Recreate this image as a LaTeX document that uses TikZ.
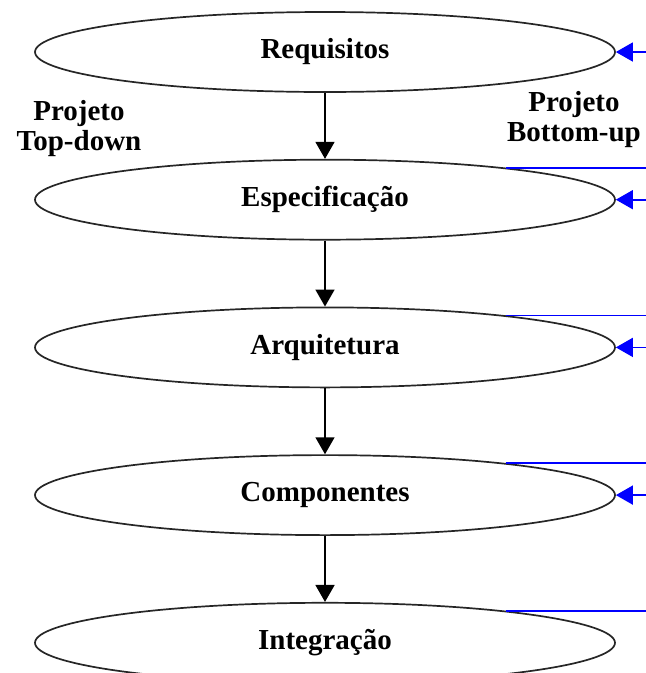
\documentclass[tikz,border=0pt]{standalone}
\usepackage{fontspec}
\setmainfont{Liberation Serif}
\usetikzlibrary{shapes.geometric, arrows.meta, positioning, calc}

\begin{document}
\begin{tikzpicture}[
    x=1pt, y=-1pt,
    node distance=66pt,
    phase/.style={ellipse, draw=black!85, line width=1.7pt, minimum width=580pt, minimum height=80pt, inner sep=0pt, font=\fontsize{29}{30}\selectfont\bfseries},
    note/.style={align=center, inner sep=0pt, font=\fontsize{29}{30}\selectfont\bfseries},
    arrow/.style={-{Triangle[length=17pt,width=19pt]}, line width=1.6pt},
    feedback/.style={-{Triangle[length=17pt,width=19pt]}, line width=1.6pt, blue},
    feedline/.style={line width=1.6pt, blue}
]
\useasboundingbox (0,0) rectangle (646,673);
\clip (0,0) rectangle (646,673);

\node[phase] (req) at (325,52) {Requisitos};
\node[phase, below=of req] (esp) {Especificação};
\node[phase, below=of esp] (arq) {Arquitetura};
\node[phase, below=of arq] (comp) {Componentes};
\node[phase, below=of comp] (integ) {Integração};

\node[note] (topdown) at (79,129) {Projeto\\Top-down};
\node[note] (bottomup) at (574,120) {Projeto\\Bottom-up};

% off-page ends of the bottom-up edges
\coordinate (reqin) at ($(req.east)+(60,0)$);
\coordinate (espin) at ($(esp.east)+(60,0)$);
\coordinate (arqin) at ($(arq.east)+(60,0)$);
\coordinate (compin) at ($(comp.east)+(60,0)$);
\coordinate (espout) at ($(esp.10.42)+(200,0)$);
\coordinate (arqout) at ($(arq.10.42)+(200,0)$);
\coordinate (compout) at ($(comp.10.42)+(200,0)$);
\coordinate (integout) at ($(integ.10.42)+(200,0)$);

\draw[arrow] (req) -- (esp);
\draw[arrow] (esp) -- (arq);
\draw[arrow] (arq) -- (comp);
\draw[arrow] (comp) -- (integ);

\draw[feedback] (reqin) -- (req.east);
\draw[feedback] (espin) -- (esp.east);
\draw[feedback] (arqin) -- (arq.east);
\draw[feedback] (compin) -- (comp.east);

\draw[feedline] (esp.10.42) -- (espout);
\draw[feedline] (arq.10.42) -- (arqout);
\draw[feedline] (comp.10.42) -- (compout);
\draw[feedline] (integ.10.42) -- (integout);

\end{tikzpicture}
\end{document}
